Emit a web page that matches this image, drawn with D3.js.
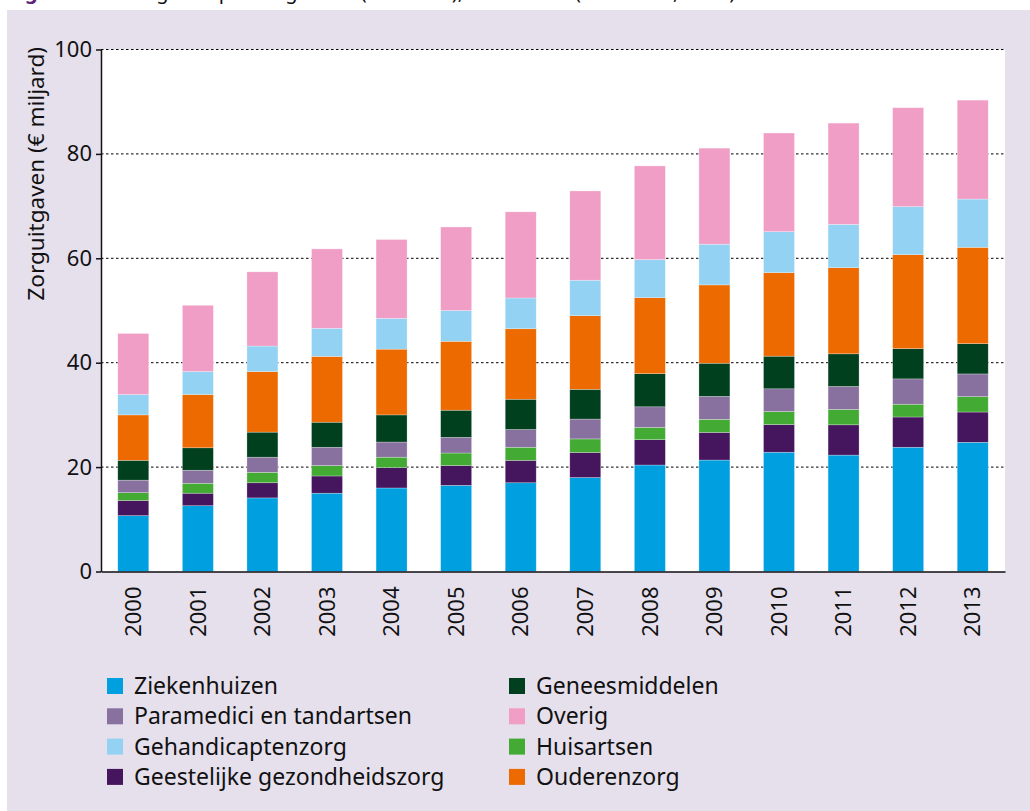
<!DOCTYPE html>
<html>
<head>
<meta charset="utf-8">
<script src="https://cdn.jsdelivr.net/npm/d3@7"></script>
<style>
	body { margin: 0; background: #fff; }
	text { font-family: "Noto Sans", sans-serif; fill: #111; }
</style>
</head>
<body>
<div id="chart"></div>
<script>
// zorguitgaven per sector, € miljard
var years = ['2000', '2001', '2002', '2003', '2004', '2005', '2006', '2007', '2008', '2009', '2010', '2011', '2012', '2013']
var ziekenhuizen = [10.7, 12.6, 14.1, 15.0, 16.0, 16.5, 17.0, 18.0, 20.4, 21.35, 22.85, 22.3, 23.8, 24.75]
var ggz = [2.9, 2.4, 2.9, 3.3, 3.9, 3.8, 4.3, 4.8, 4.85, 5.3, 5.3, 5.8, 5.8, 5.8]
var huisartsen = [1.5, 1.9, 2.0, 2.0, 2.0, 2.4, 2.5, 2.6, 2.35, 2.5, 2.5, 2.95, 2.45, 2.95]
var paramedici = [2.4, 2.5, 2.9, 3.5, 2.9, 3.0, 3.4, 3.8, 3.95, 4.4, 4.35, 4.4, 4.85, 4.35]
var geneesmiddelen = [3.8, 4.3, 4.8, 4.8, 5.2, 5.2, 5.8, 5.7, 6.35, 6.35, 6.25, 6.25, 5.8, 5.8]
var ouderenzorg = [8.7, 10.2, 11.6, 12.6, 12.6, 13.2, 13.5, 14.1, 14.55, 15.0, 16.0, 16.5, 18.0, 18.45]
var gehandicaptenzorg = [3.9, 4.4, 4.9, 5.4, 5.9, 5.9, 5.9, 6.8, 7.3, 7.8, 7.85, 8.3, 9.2, 9.25]
var overig = [11.7, 12.7, 14.2, 15.2, 15.1, 16.0, 16.5, 17.1, 17.95, 18.4, 18.9, 19.4, 18.95, 18.95]

var yTicks = [0, 20, 40, 60, 80, 100]

// stacking order, bottom to top
var series = [
	{ key: 'Ziekenhuizen', values: ziekenhuizen, color: '#009fe0' },
	{ key: 'Geestelijke gezondheidszorg', values: ggz, color: '#45165d' },
	{ key: 'Huisartsen', values: huisartsen, color: '#43ab34' },
	{ key: 'Paramedici en tandartsen', values: paramedici, color: '#88709f' },
	{ key: 'Geneesmiddelen', values: geneesmiddelen, color: '#00401e' },
	{ key: 'Ouderenzorg', values: ouderenzorg, color: '#ec6a00' },
	{ key: 'Gehandicaptenzorg', values: gehandicaptenzorg, color: '#94d2f3' },
	{ key: 'Overig', values: overig, color: '#f09ec5' }
]

// legend is laid out in two columns
var legendCols = [
	['Ziekenhuizen', 'Paramedici en tandartsen', 'Gehandicaptenzorg', 'Geestelijke gezondheidszorg'],
	['Geneesmiddelen', 'Overig', 'Huisartsen', 'Ouderenzorg']
]

var width = 1030
var height = 811
var plot = { left: 101, right: 1005, top: 49.5, bottom: 571.5 }

var svg = d3.select('#chart').append('svg')
	.attr('width', width)
	.attr('height', height)

// title line above the panel, cut off by the page top as in the original
var title = svg.append('text')
	.attr('x', 8)
	.attr('y', -1)
	.style('font-size', '20px')
title.append('tspan')
	.style('font-weight', 'bold')
	.style('fill', '#5b2677')
	.text('Figuur 1')
title.append('tspan')
	.attr('dx', 40)
	.text('Uitgaven per zorgsector (mld euro), 2000–2013 (bron: CBS, 2014)')

svg.append('rect')
	.attr('x', 7)
	.attr('y', 10)
	.attr('width', width - 7)
	.attr('height', height - 10)
	.attr('fill', '#e6e0ed')

svg.append('rect')
	.attr('x', plot.left)
	.attr('y', plot.top)
	.attr('width', plot.right - plot.left)
	.attr('height', plot.bottom - plot.top)
	.attr('fill', '#fff')

var x = d3.scaleBand()
	.domain(years)
	.range([plot.left, plot.right])
	.paddingInner(0.52)
	.paddingOuter(0.26)

var y = d3.scaleLinear()
	.domain([0, 100])
	.range([plot.bottom, plot.top])

// dotted gridlines
svg.append('g')
	.selectAll('line')
	.data(yTicks.filter(function(d) { return d > 0 }))
	.enter().append('line')
	.attr('x1', plot.left)
	.attr('x2', plot.right)
	.attr('y1', function(d) { return y(d) })
	.attr('y2', function(d) { return y(d) })
	.attr('stroke', '#000')
	.attr('stroke-width', 1)
	.attr('stroke-dasharray', '2.5,2.5')

var table = years.map(function(yr, i) {
	var row = { year: yr }
	series.forEach(function(s) { row[s.key] = s.values[i] })
	return row
})

var stacked = d3.stack().keys(series.map(function(s) { return s.key }))(table)
var colorOf = {}
series.forEach(function(s) { colorOf[s.key] = s.color })

svg.append('g')
	.selectAll('g')
	.data(stacked)
	.enter().append('g')
	.attr('fill', function(d) { return colorOf[d.key] })
	.selectAll('rect')
	.data(function(d) { return d })
	.enter().append('rect')
	.attr('x', function(d) { return x(d.data.year) })
	.attr('width', x.bandwidth())
	.attr('y', function(d) { return y(d[1]) })
	.attr('height', function(d) { return y(d[0]) - y(d[1]) })
	.attr('stroke', '#fff')
	.attr('stroke-width', 0.6)
	.attr('stroke-opacity', 0.45)

// axes
var yAxis = svg.append('g')
	.attr('transform', 'translate(' + plot.left + ',0)')
	.call(d3.axisLeft(y).tickValues(yTicks).tickSize(5).tickSizeOuter(0).tickPadding(4))
yAxis.selectAll('text').style('font-size', '22px').attr('fill', '#111')
yAxis.selectAll('line').attr('stroke', '#111').attr('stroke-width', 1.5)
yAxis.select('.domain').attr('stroke', '#111').attr('stroke-width', 1.5)

var xAxis = svg.append('g')
	.attr('transform', 'translate(0,' + plot.bottom + ')')
	.call(d3.axisBottom(x).tickSize(0).tickSizeOuter(0))
xAxis.select('.domain').attr('stroke', '#111').attr('stroke-width', 1.5)
xAxis.selectAll('text')
	.style('font-size', '22px')
	.attr('fill', '#111')
	.attr('text-anchor', 'end')
	.attr('transform', 'rotate(-90)')
	.attr('x', -15)
	.attr('y', 0)
	.attr('dy', '0.35em')

svg.append('text')
	.attr('transform', 'translate(44,47) rotate(-90)')
	.attr('text-anchor', 'end')
	.style('font-size', '22.5px')
	.text('Zorguitgaven (€ miljard)')

// legend
var legendX = [107, 509]
var legendY = d3.scaleLinear().domain([0, 1]).range([686, 716.3])
legendCols.forEach(function(col, c) {
	var g = svg.append('g')
	var item = g.selectAll('g')
		.data(col)
		.enter().append('g')
		.attr('transform', function(d, i) { return 'translate(' + legendX[c] + ',' + legendY(i) + ')' })
	item.append('rect')
		.attr('x', 0)
		.attr('y', -8)
		.attr('width', 16)
		.attr('height', 16)
		.attr('fill', function(d) { return colorOf[d] })
	item.append('text')
		.attr('x', 27)
		.attr('dy', '0.35em')
		.style('font-size', '23px')
		.text(function(d) { return d })
})
</script>
</body>
</html>
